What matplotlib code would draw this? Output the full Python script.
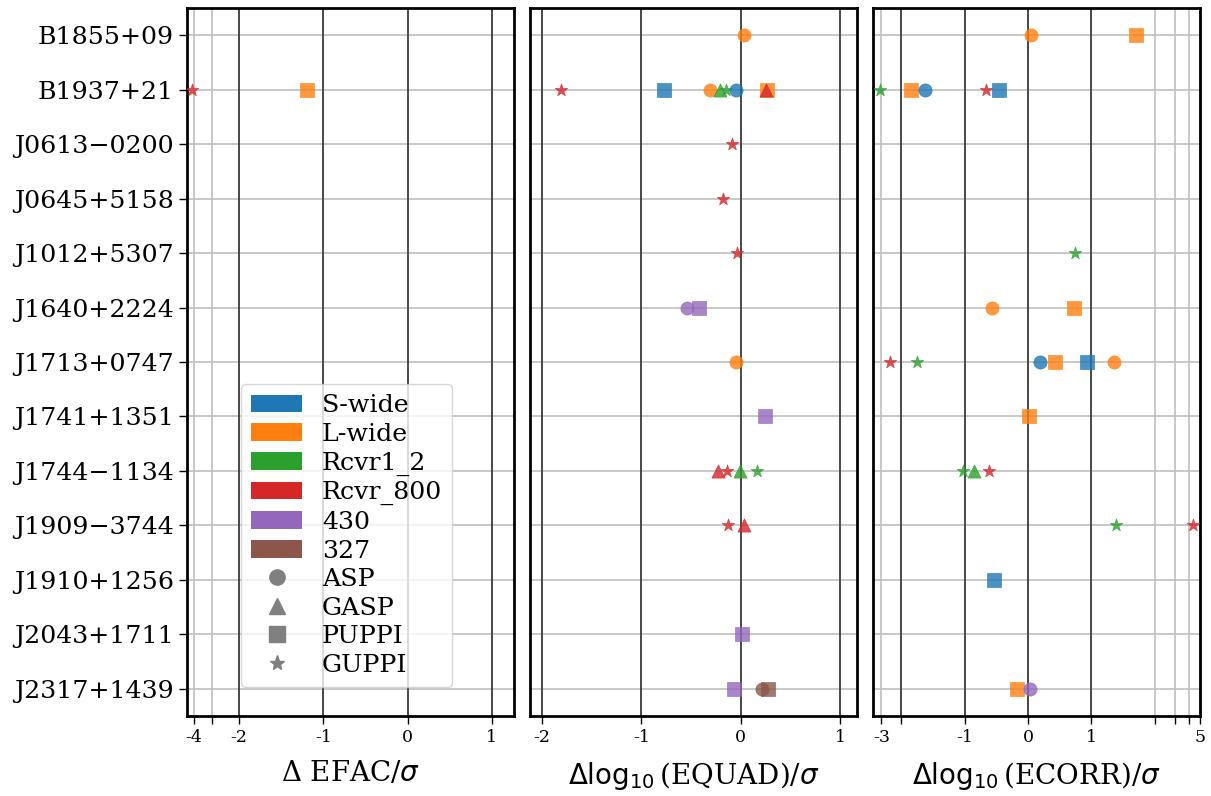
import matplotlib
matplotlib.use("Agg")
import matplotlib.pyplot as plt
from matplotlib.patches import Patch
from matplotlib.lines import Line2D
from matplotlib.ticker import NullLocator

# ── data ─────────────────────────────────────────────────────────────
PULSARS = ["B1855+09", "B1937+21", "J0613\u22120200", "J0645+5158", "J1012+5307",
           "J1640+2224", "J1713+0747", "J1741+1351", "J1744\u22121134",
           "J1909\u22123744", "J1910+1256", "J2043+1711", "J2317+1439"]

RECEIVERS = ["S-wide", "L-wide", "Rcvr1_2", "Rcvr_800", "430", "327"]
RCVR_COLORS = ["tab:blue", "tab:orange", "tab:green", "tab:red", "tab:purple", "tab:brown"]
BACKENDS = ["ASP", "GASP", "PUPPI", "GUPPI"]
BE_MARKERS = ["o", "^", "s", "*"]

# EFAC panel
efac_psr  = [1, 1]
efac_rcvr = ["Rcvr_800", "L-wide"]
efac_be   = ["GUPPI", "PUPPI"]
efac_val  = [-4.1, -1.19]

# EQUAD panel
equad_psr  = [0, 1, 1, 1, 1, 1, 1, 1, 1, 2, 3, 4, 5, 5, 6, 7,
              8, 8, 8, 8, 9, 9, 11, 12, 12, 12]
equad_rcvr = ["L-wide", "Rcvr_800", "S-wide", "L-wide", "Rcvr1_2", "Rcvr1_2",
              "S-wide", "L-wide", "Rcvr_800", "Rcvr_800", "Rcvr_800", "Rcvr_800",
              "430", "430", "L-wide", "430", "Rcvr_800", "Rcvr_800", "Rcvr1_2",
              "Rcvr1_2", "Rcvr_800", "Rcvr_800", "430", "430", "327", "327"]
equad_be   = ["ASP", "GUPPI", "PUPPI", "ASP", "GASP", "GUPPI", "ASP", "PUPPI",
              "GASP", "GUPPI", "GUPPI", "GUPPI", "ASP", "PUPPI", "ASP", "PUPPI",
              "GASP", "GUPPI", "GASP", "GUPPI", "GUPPI", "GASP", "PUPPI", "PUPPI",
              "ASP", "PUPPI"]
equad_val  = [0.03, -1.81, -0.77, -0.31, -0.21, -0.15, -0.05, 0.27, 0.26,
              -0.09, -0.18, -0.04, -0.54, -0.42, -0.05, 0.25, -0.23, -0.14,
              -0.01, 0.16, -0.13, 0.03, 0.01, -0.07, 0.22, 0.28]

# ECORR panel
ecorr_psr  = [0, 0, 1, 1, 1, 1, 1, 4, 5, 5, 6, 6, 6, 6, 6, 6,
              7, 8, 8, 8, 9, 9, 10, 12, 12]
ecorr_rcvr = ["L-wide", "L-wide", "Rcvr1_2", "L-wide", "S-wide", "Rcvr_800",
              "S-wide", "Rcvr1_2", "L-wide", "L-wide", "Rcvr_800", "Rcvr1_2",
              "S-wide", "L-wide", "S-wide", "L-wide", "L-wide", "Rcvr1_2",
              "Rcvr1_2", "Rcvr_800", "Rcvr1_2", "Rcvr_800", "S-wide", "L-wide", "430"]
ecorr_be   = ["ASP", "PUPPI", "GUPPI", "PUPPI", "ASP", "GUPPI", "PUPPI", "GUPPI",
              "ASP", "PUPPI", "GUPPI", "GUPPI", "ASP", "PUPPI", "PUPPI", "ASP",
              "PUPPI", "GUPPI", "GASP", "GUPPI", "GUPPI", "GUPPI", "PUPPI",
              "PUPPI", "ASP"]
ecorr_val  = [0.05, 1.70, -3.08, -1.85, -1.62, -0.67, -0.46, 0.75, -0.57, 0.72,
              -2.50, -1.75, 0.19, 0.43, 0.93, 1.36, 0.02, -1.03, -0.86, -0.61,
              1.39, 4.30, -0.53, -0.18, 0.03]

# ── axis config ──────────────────────────────────────────────────────
PANELS = [
    (efac_psr, efac_rcvr, efac_be, efac_val, "\u0394 EFAC/$\\sigma$",
     [-4, -3, -2, -1, 0, 1], ["-4", "", "-2", "-1", "0", "1"], (-4.42, 1.26)),
    (equad_psr, equad_rcvr, equad_be, equad_val,
     "$\\Delta\\log_{10}$(EQUAD)/$\\sigma$",
     [-2, -1, 0, 1], ["-2", "-1", "0", "1"], (-2.33, 1.17)),
    (ecorr_psr, ecorr_rcvr, ecorr_be, ecorr_val,
     "$\\Delta\\log_{10}$(ECORR)/$\\sigma$",
     [-3, -2, -1, 0, 1, 2, 3, 4, 5], ["-3", "", "-1", "0", "1", "", "", "", "5"],
     (-3.53, 5.0)),
]

plt.rcParams["font.family"] = "serif"
plt.rcParams["axes.unicode_minus"] = False

fig, axes = plt.subplots(1, 3, sharey=True, figsize=(12.11, 7.96), dpi=100)
fig.subplots_adjust(left=0.1544, right=0.9909, top=0.990, bottom=0.1005, wspace=0.05)

for ax, (psr, rcvr, be, val, xlabel, ticks, labels, xlim) in zip(axes, PANELS):
    ax.set_xscale("symlog", linthresh=2, linscale=1)
    for p, r, b, v in zip(psr, rcvr, be, val):
        ax.scatter(v, p, s=90, color=RCVR_COLORS[RECEIVERS.index(r)],
                   marker=BE_MARKERS[BACKENDS.index(b)], alpha=0.8,
                   linewidths=0.5, zorder=3)
    for xv in [-2, -1, 0, 1]:
        ax.axvline(xv, color="0.15", lw=1.1, zorder=2)
    ax.set_xlim(*xlim)
    ax.set_xticks(ticks)
    ax.set_xticklabels(labels)
    ax.xaxis.set_minor_locator(NullLocator())
    ax.grid(True, color="0.75", lw=1.2, zorder=0)
    ax.set_axisbelow(True)
    ax.set_xlabel(xlabel, fontsize=20, labelpad=10)
    ax.tick_params(axis="x", labelsize=12.5, length=6, width=1)
    for sp in ax.spines.values():
        sp.set_linewidth(2)

axes[0].set_yticks(range(len(PULSARS)))
axes[0].set_yticklabels(PULSARS)
axes[0].set_ylim(len(PULSARS) - 0.5, -0.5)
axes[0].tick_params(axis="y", labelsize=18.2, length=6, width=1)
for ax in axes[1:]:
    ax.tick_params(axis="y", length=0)

handles = [Patch(facecolor=c, label=r) for r, c in zip(RECEIVERS, RCVR_COLORS)]
handles += [Line2D([], [], marker=m, color="gray", linestyle="", markersize=11, label=b)
            for b, m in zip(BACKENDS, BE_MARKERS)]
axes[0].legend(handles=handles, loc="lower center", bbox_to_anchor=(0.489, 0.041),
               borderaxespad=0, fontsize=18.2, labelspacing=0.22)

fig.savefig("out.png", dpi=100)
